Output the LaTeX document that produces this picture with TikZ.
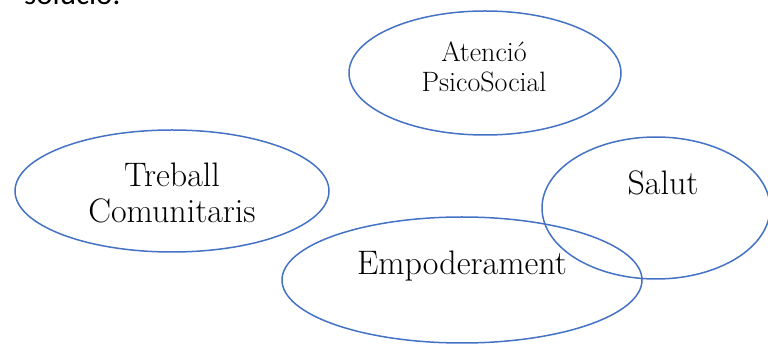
\documentclass[tikz,border=0pt]{standalone}
\usepackage{fontspec}
\usepackage{tikz}
\usetikzlibrary{shapes.geometric}
\newfontfamily\bodyfont{Carlito}
\definecolor{colorline}{RGB}{68,114,196}
\definecolor{colortext}{RGB}{0,0,0}

\begin{document}
\begin{tikzpicture}[
    x=1pt, y=1pt,
    area/.style={ellipse,draw=colorline,line width=1.5pt,inner sep=0pt},
    areatext/.style={text=colortext,align=center,inner sep=0pt,font={\fontsize{34}{36}\selectfont}},
    smalltext/.style={areatext,font={\fontsize{28}{30}\selectfont}},
]
    \useasboundingbox (0,0) rectangle (768,345);

    % Text above the picture
    \node[anchor=base west,inner sep=0pt,font={\bodyfont\fontsize{31}{36}\selectfont}] (prev) at (24,340) {solució.};

    % Areas
    \node[area, minimum width=272, minimum height=124] (atencio) at (485,272) {};
    \node[area, minimum width=314, minimum height=122] (treball) at (172,154) {};
    \node[area, minimum width=228, minimum height=142] (salut) at (656,137) {};
    \node[area, minimum width=360, minimum height=126] (empod) at (462,65) {};

    % Area labels
    \node[smalltext] (atencio-txt) at (484,278) {Atenció\\PsicoSocial};
    \node[areatext] (treball-txt) at (172,152) {Treball\\Comunitaris};
    \node[areatext, anchor=base] (salut-txt) at (663,150) {Salut};
    \node[areatext, anchor=base] (empod-txt) at (462,70) {Empoderament};

\end{tikzpicture}
\end{document}
